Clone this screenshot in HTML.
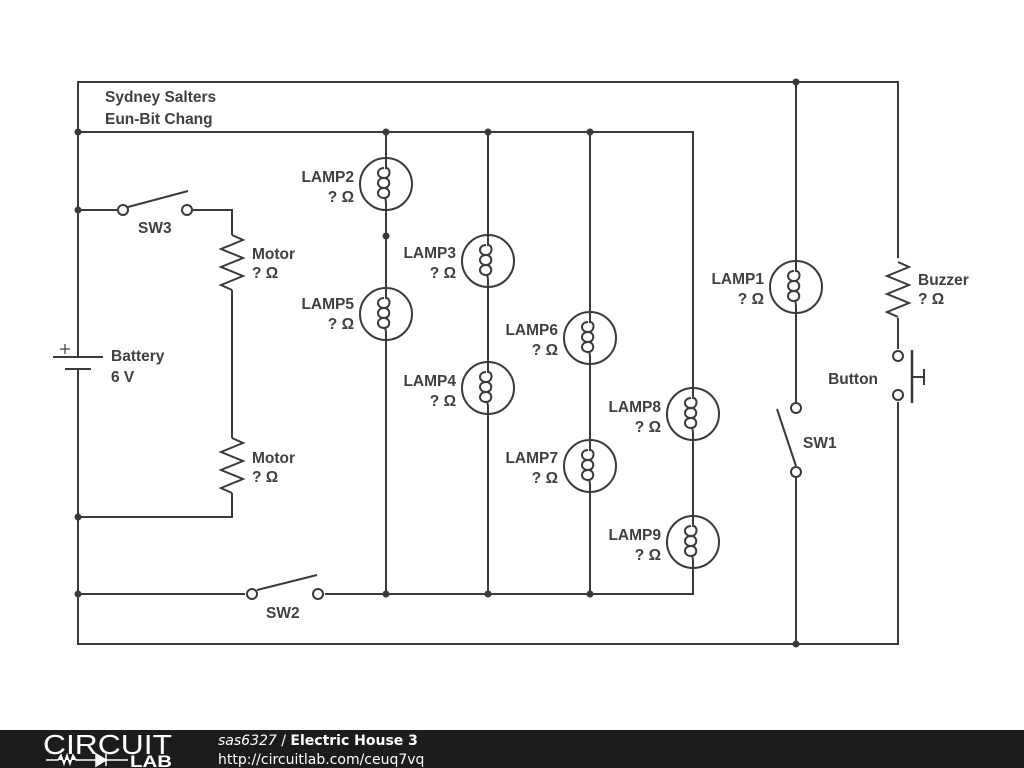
<!DOCTYPE html>
<html><head><style>
html,body{margin:0;padding:0;background:#fff;width:1024px;height:768px;overflow:hidden}
svg{display:block}
text{font-family:"Liberation Sans","DejaVu Sans",sans-serif;font-weight:bold;font-size:15.5px;fill:#404040}
</style></head><body>
<svg width="1024" height="768" viewBox="0 0 1024 768" xmlns="http://www.w3.org/2000/svg">
<defs>
<g id="lamp">
<circle cx="0" cy="0" r="26" fill="#fff" stroke="#3a3a3a" stroke-width="2"/>
<path d="M0,-26 V-16 C5,-16 5,-6 -2,-6 C-10,-6 -10,-16 -2,-16 M-2,-6 C5,-6 5,4 -2,4 C-10,4 -10,-6 -2,-6 M-2,4 C5,4 5,14 -2,14 C-10,14 -10,4 -2,4 M-1,14 C0,16 0,18 0,20 V26" fill="none" stroke="#3a3a3a" stroke-width="2"/>
</g>
<g id="res">
<path d="M0,0 L11,5 L-11,14 L11,23 L-11,32 L11,41 L-11,50 L0,55" fill="none" stroke="#3a3a3a" stroke-width="2"/>
</g>
</defs>
<g stroke="#3a3a3a" stroke-width="2" fill="none">
<path d="M78,340 V82 H898 V258 M898,318 V349 M898,402 V644 H78 V380"/>
<path d="M78,132 H693 V594 H325 M245,594 H78"/>
<line x1="257" y1="590" x2="317" y2="575"/>
<path d="M78,210 H117 M193,210 H232 V235 M232,290 V438 M232,493 V517 H78"/>
<line x1="128" y1="207" x2="188" y2="191"/>
<line x1="53" y1="357" x2="103" y2="357"/>
<line x1="65" y1="369" x2="91" y2="369"/>
<line x1="78" y1="340" x2="78" y2="357"/>
<line x1="78" y1="369" x2="78" y2="380"/>
<line x1="60" y1="349" x2="70" y2="349" stroke-width="1.2"/>
<line x1="65" y1="344" x2="65" y2="354" stroke-width="1.2"/>
<line x1="386" y1="132" x2="386" y2="594"/>
<line x1="488" y1="132" x2="488" y2="594"/>
<line x1="590" y1="132" x2="590" y2="594"/>
<path d="M796,82 V402 M796,478 V644"/>
<line x1="796" y1="466" x2="777" y2="409"/>
<line x1="912" y1="350" x2="912" y2="403" stroke-width="2.5"/>
<path d="M912,377 H924 M924,369 V385"/>
</g>
<g fill="#fff" stroke="#3a3a3a" stroke-width="2">
<circle cx="123" cy="210" r="5"/><circle cx="187" cy="210" r="5"/>
<circle cx="252" cy="594" r="5"/><circle cx="318" cy="594" r="5"/>
<circle cx="796" cy="408" r="5"/><circle cx="796" cy="472" r="5"/>
<circle cx="898" cy="356" r="5"/><circle cx="898" cy="395" r="5"/>
</g>
<use href="#res" x="232" y="235"/><use href="#res" x="232" y="438"/><use href="#res" x="898" y="262"/>
<use href="#lamp" x="386" y="184"/><use href="#lamp" x="386" y="314"/>
<use href="#lamp" x="488" y="261"/><use href="#lamp" x="488" y="388"/>
<use href="#lamp" x="590" y="338"/><use href="#lamp" x="590" y="466"/>
<use href="#lamp" x="693" y="414"/><use href="#lamp" x="693" y="542"/>
<use href="#lamp" x="796" y="287"/>
<g fill="#3a3a3a">
<circle cx="78" cy="132" r="3.5"/><circle cx="386" cy="132" r="3.5"/><circle cx="488" cy="132" r="3.5"/><circle cx="590" cy="132" r="3.5"/>
<circle cx="796" cy="82" r="3.5"/><circle cx="78" cy="210" r="3.5"/><circle cx="78" cy="517" r="3.5"/>
<circle cx="386" cy="236" r="3.5"/><circle cx="78" cy="594" r="3.5"/><circle cx="386" cy="594" r="3.5"/>
<circle cx="488" cy="594" r="3.5"/><circle cx="590" cy="594" r="3.5"/><circle cx="796" cy="644" r="3.5"/>
</g>
<text x="105" y="102" font-size="17.5">Sydney Salters</text>
<text x="105" y="124" font-size="17.5">Eun-Bit Chang</text>
<text x="138" y="233">SW3</text>
<text x="252" y="259">Motor</text><text x="252" y="278">? Ω</text>
<text x="252" y="463">Motor</text><text x="252" y="482">? Ω</text>
<text x="111" y="361">Battery</text><text x="111" y="382">6 V</text>
<text x="266" y="618">SW2</text>
<g text-anchor="end">
<text x="354" y="182">LAMP2</text><text x="354" y="202">? Ω</text>
<text x="354" y="309">LAMP5</text><text x="354" y="329">? Ω</text>
<text x="456" y="258">LAMP3</text><text x="456" y="278">? Ω</text>
<text x="456" y="386">LAMP4</text><text x="456" y="406">? Ω</text>
<text x="558" y="335">LAMP6</text><text x="558" y="355">? Ω</text>
<text x="558" y="463">LAMP7</text><text x="558" y="483">? Ω</text>
<text x="661" y="412">LAMP8</text><text x="661" y="432">? Ω</text>
<text x="661" y="540">LAMP9</text><text x="661" y="560">? Ω</text>
<text x="764" y="284">LAMP1</text><text x="764" y="304">? Ω</text>
<text x="878" y="384">Button</text>
</g>
<text x="803" y="448">SW1</text>
<text x="918" y="285">Buzzer</text><text x="918" y="304">? Ω</text>
<rect x="0" y="730" width="1024" height="38" fill="#1c1c1c"/>
<text x="43" y="754" textLength="129" lengthAdjust="spacingAndGlyphs" style="font-weight:normal;font-size:28px;fill:#fff">CIRCUIT</text>
<path d="M46,760 H58 L61,755 L64,764 L67,755 L70,764 L73,755 L76,760 H96 M96,754 V766 L106,760 Z M106,754 V766 M106,760 H128" stroke="#fff" stroke-width="1.5" fill="#fff"/>
<text x="130" y="767" textLength="42" lengthAdjust="spacingAndGlyphs" style="font-size:17px;fill:#fff">LAB</text>
<text x="218" y="745" style="font-family:'DejaVu Sans',sans-serif;font-size:14px;fill:#fff"><tspan style="font-style:italic;font-weight:normal">sas6327</tspan><tspan style="font-weight:normal"> / </tspan>Electric House 3</text>
<text x="218" y="764" style="font-family:'DejaVu Sans',sans-serif;font-weight:normal;font-size:14px;fill:#fff">http://circuitlab.com/ceuq7vq</text>
</svg>
</body></html>
